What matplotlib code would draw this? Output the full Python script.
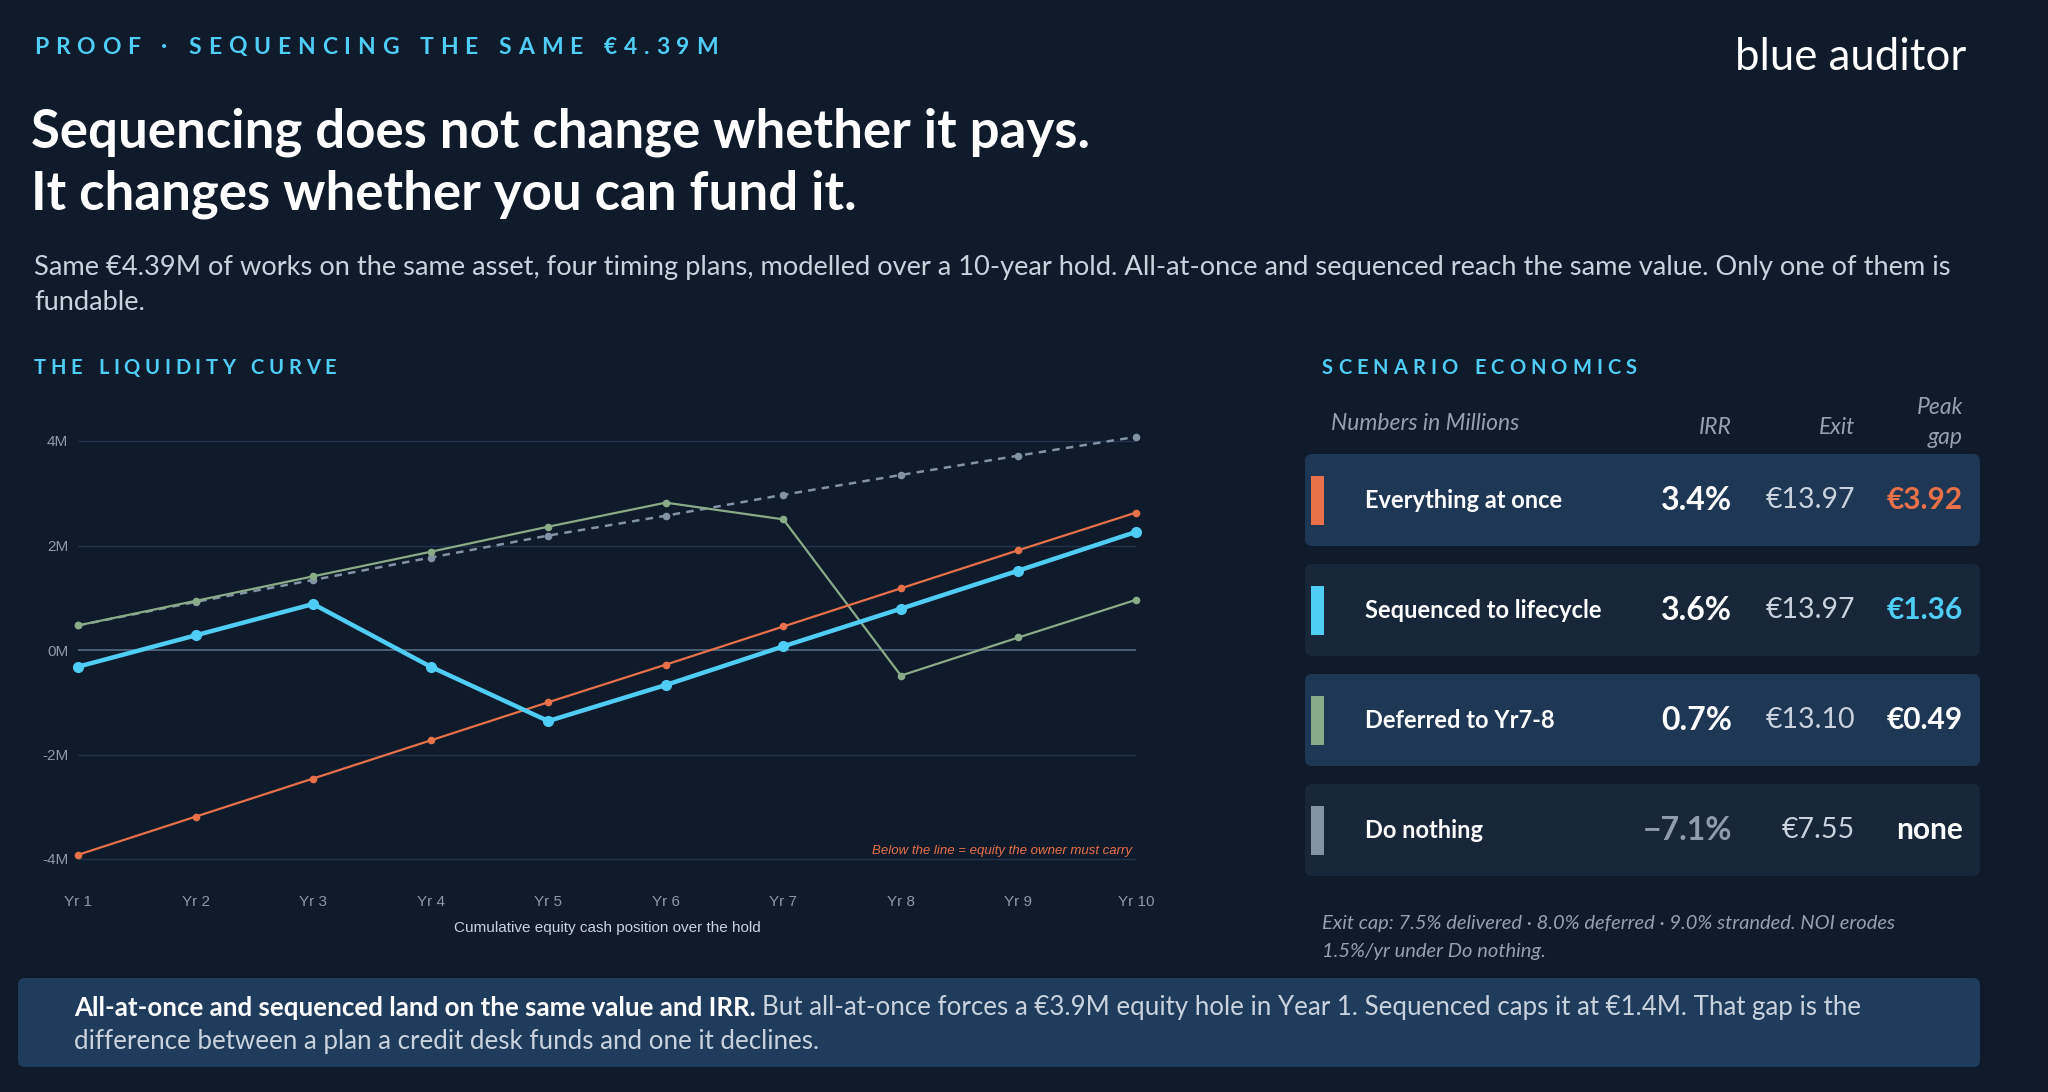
import matplotlib
matplotlib.use("Agg")
import matplotlib.pyplot as plt
from matplotlib.patches import FancyBboxPatch, Rectangle

# ---- data ----
years = ["Yr 1", "Yr 2", "Yr 3", "Yr 4", "Yr 5", "Yr 6", "Yr 7", "Yr 8", "Yr 9", "Yr 10"]
everything_at_once = [-3.92, -3.19, -2.46, -1.73, -1.00, -0.28, 0.45, 1.18, 1.91, 2.63]
sequenced = [-0.32, 0.28, 0.88, -0.32, -1.36, -0.67, 0.07, 0.79, 1.52, 2.26]
deferred = [0.47, 0.94, 1.41, 1.88, 2.36, 2.82, 2.50, -0.49, 0.24, 0.96]
do_nothing = [0.47, 0.92, 1.34, 1.77, 2.19, 2.57, 2.97, 3.35, 3.72, 4.08]
y_ticks = [-4, -2, 0, 2, 4]
y_tick_labels = ["-4M", "-2M", "0M", "2M", "4M"]

scenarios = ["Everything at once", "Sequenced to lifecycle", "Deferred to Yr7-8", "Do nothing"]
irr = ["3.4%", "3.6%", "0.7%", "\u22127.1%"]
exit_value = ["\u20ac13.97", "\u20ac13.97", "\u20ac13.10", "\u20ac7.55"]
peak_gap = ["\u20ac3.92", "\u20ac1.36", "\u20ac0.49", "none"]

# ---- colours ----
BG = "#0f1a2b"
CYAN = "#4fcdf5"
ORANGE = "#e8714a"
GREEN = "#8aab88"
GREY = "#8393a6"
LIGHT = "#c9d2dd"
MUTED = "#95a1b1"
ROW_LIGHT = "#1e3754"
ROW_DARK = "#172638"
FONT = ["Lato", "DejaVu Sans"]
CHART_FONT = ["Liberation Sans", "DejaVu Sans"]

W, H = 2048, 1092
fig = plt.figure(figsize=(W / 100, H / 100), dpi=100, facecolor=BG)

# background axes in pixel coordinates
bg = fig.add_axes([0, 0, 1, 1])
bg.set_xlim(0, W)
bg.set_ylim(H, 0)
bg.axis("off")
bg.set_facecolor(BG)

renderer = fig.canvas.get_renderer()


def spaced(x, y, s, spacing, **kw):
    # letter-spaced caps label
    for ch in s:
        if ch == " ":
            x += kw.get("fontsize", 12) * 0.45 + spacing
            continue
        t = bg.text(x, y, ch, **kw)
        x += t.get_window_extent(renderer).width + spacing


spaced(34, 47, "PROOF \u00b7 SEQUENCING THE SAME \u20ac4.39M", 6.8,
       fontsize=16.5, color=CYAN, fontweight="bold", family=FONT, va="center")
bg.text(1966, 58, "blue auditor", fontsize=31.5, color="white", family=FONT,
        ha="right", va="center")

bg.text(31, 132, "Sequencing does not change whether it pays.", fontsize=38,
        color="white", fontweight="bold", family=FONT, va="center")
bg.text(31, 194, "It changes whether you can fund it.", fontsize=38,
        color="white", fontweight="bold", family=FONT, va="center")

bg.text(34, 267, "Same \u20ac4.39M of works on the same asset, four timing plans, modelled over a "
        "10-year hold. All-at-once and sequenced reach the same value. Only one of them is",
        fontsize=19.6, color=LIGHT, family=FONT, va="center")
bg.text(34, 302, "fundable.", fontsize=19.6, color=LIGHT, family=FONT, va="center")

spaced(34, 368, "THE LIQUIDITY CURVE", 4.6, fontsize=14.5, color=CYAN,
       fontweight="bold", family=FONT, va="center")
spaced(1322, 368, "SCENARIO ECONOMICS", 5.0, fontsize=14.5, color=CYAN,
       fontweight="bold", family=FONT, va="center")

# ---- liquidity chart ----
px_per_m = 52.25
zero_y = 650
ylo, yhi = -4.6, 4.6
top = zero_y - yhi * px_per_m
bottom = zero_y - ylo * px_per_m
ax = fig.add_axes([78 / W, 1 - bottom / H, (1136 - 78) / W, (bottom - top) / H])
ax.set_facecolor("none")
x = list(range(1, len(years) + 1))
ax.set_xlim(1, 10)
ax.set_ylim(ylo, yhi)
for v in y_ticks:
    ax.axhline(v, color="#4f6680" if v == 0 else "#22334a", lw=1.3 if v == 0 else 1.0, zorder=1)

ax.plot(x, do_nothing, color=GREY, lw=1.8, ls=(0, (3, 2.5)), marker="o", ms=4.5,
        clip_on=False, zorder=3)
ax.plot(x, deferred, color=GREEN, lw=1.6, marker="o", ms=4.5, clip_on=False, zorder=4)
ax.plot(x, everything_at_once, color=ORANGE, lw=1.6, marker="o", ms=4.5, clip_on=False, zorder=5)
ax.plot(x, sequenced, color=CYAN, lw=3.2, marker="o", ms=7, clip_on=False, zorder=6)

ax.set_xticks(x)
ax.set_xticklabels(years)
ax.set_yticks(y_ticks)
ax.set_yticklabels(y_tick_labels)
ax.tick_params(length=0, colors="#8c99aa", labelsize=11)
ax.tick_params(axis="x", pad=3)
ax.tick_params(axis="y", pad=7)
for lab in ax.get_xticklabels() + ax.get_yticklabels():
    lab.set_family(CHART_FONT)
for sp in ax.spines.values():
    sp.set_visible(False)
ax.set_xlabel("Cumulative equity cash position over the hold", color=LIGHT,
              fontsize=11, family=CHART_FONT, labelpad=9)
ax.text(9.97, -3.96, "Below the line = equity the owner must carry", color=ORANGE,
        fontsize=9.5, style="italic", ha="right", va="bottom", family=CHART_FONT)

# ---- scenario table ----
col_irr, col_exit, col_gap = 1732, 1855, 1963
hdr = dict(fontsize=16.5, color=MUTED, style="italic", family=FONT, va="center")
bg.text(1331, 424, "Numbers in Millions", **hdr)
bg.text(col_irr, 428, "IRR", ha="right", **hdr)
bg.text(col_exit, 428, "Exit", ha="right", **hdr)
bg.text(col_gap, 407, "Peak", ha="right", **hdr)
bg.text(col_gap, 437, "gap", ha="right", **hdr)

row_tops = [454, 564, 674, 784]
row_h = 92
row_fill = [ROW_LIGHT, ROW_DARK, ROW_LIGHT, ROW_DARK]
bar_cols = [ORANGE, CYAN, GREEN, GREY]
gap_cols = [ORANGE, CYAN, "white", "white"]
irr_cols = ["white", "white", "white", "#8f9cad"]
for i, name in enumerate(scenarios):
    y0 = row_tops[i]
    yc = y0 + row_h / 2
    bg.add_patch(FancyBboxPatch((1305, y0), 675, row_h,
                                boxstyle="round,pad=0,rounding_size=7",
                                fc=row_fill[i], ec="none"))
    bg.add_patch(Rectangle((1311, yc - 24), 13, 49, fc=bar_cols[i], ec="none"))
    bg.text(1365, yc, name, fontsize=17, color="white", fontweight="bold",
            family=FONT, va="center")
    bg.text(col_irr, yc, irr[i], fontsize=23, color=irr_cols[i], fontweight="bold",
            family=FONT, ha="right", va="center")
    bg.text(col_exit, yc, exit_value[i], fontsize=20.5, color=LIGHT,
            family=FONT, ha="right", va="center")
    bg.text(col_gap, yc, peak_gap[i], fontsize=21.5, color=gap_cols[i], fontweight="bold",
            family=FONT, ha="right", va="center")

bg.text(1322, 923, "Exit cap: 7.5% delivered \u00b7 8.0% deferred \u00b7 9.0% stranded. NOI erodes",
        fontsize=14.5, color=MUTED, style="italic", family=FONT, va="center")
bg.text(1322, 952, "1.5%/yr under Do nothing.", fontsize=14.5, color=MUTED,
        style="italic", family=FONT, va="center")

# ---- bottom takeaway box ----
bg.add_patch(FancyBboxPatch((18, 978), 1962, 89, boxstyle="round,pad=0,rounding_size=7",
                            fc="#1f3c5c", ec="none"))
t1 = bg.text(74, 1008, "All-at-once and sequenced land on the same value and IRR.",
             fontsize=18.6, color="white", fontweight="bold", family=FONT, va="center")
w1 = t1.get_window_extent(renderer).width
bg.text(74 + w1 + 6, 1008, "But all-at-once forces a \u20ac3.9M equity hole in Year 1. "
        "Sequenced caps it at \u20ac1.4M. That gap is the", fontsize=18.6, color=LIGHT,
        family=FONT, va="center")
bg.text(74, 1041, "difference between a plan a credit desk funds and one it declines.",
        fontsize=18.6, color=LIGHT, family=FONT, va="center")

fig.savefig("out.png", dpi=100, facecolor=BG)
